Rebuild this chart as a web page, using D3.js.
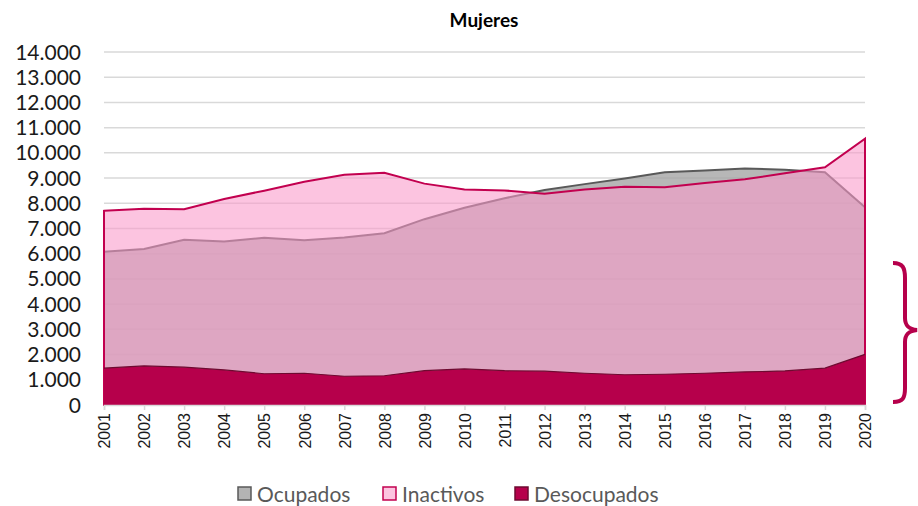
<!DOCTYPE html>
<html lang="es">
  <head>
    <meta charset="utf-8">
    <title>Mujeres</title>
    <script src="https://cdnjs.cloudflare.com/ajax/libs/d3/7.8.5/d3.min.js"></script>
    <style>
      body { margin: 0; background: #fff; }
      svg { display: block; font-family: "Lato", "Open Sans", sans-serif; }
      .grid line { stroke: #d9d9d9; stroke-width: 1.5; }
      .ylab { font-size: 21px; fill: #1a1a1a; }
      .xaxis text { font-size: 16px; fill: #1a1a1a; }
      .legend text { font-size: 21px; fill: #595959; }
    </style>
  </head>
  <body>
    <div id="chart"></div>

    <script type="text/javascript">
    const years = [2001, 2002, 2003, 2004, 2005, 2006, 2007, 2008, 2009, 2010,
                   2011, 2012, 2013, 2014, 2015, 2016, 2017, 2018, 2019, 2020];
    const ocupados = [6080, 6190, 6550, 6480, 6630, 6530, 6640, 6810, 7370, 7820,
                      8200, 8530, 8760, 8980, 9230, 9300, 9380, 9330, 9230, 7840];
    const inactivos = [7700, 7780, 7760, 8170, 8500, 8850, 9130, 9210, 8780, 8550,
                       8510, 8380, 8550, 8660, 8640, 8800, 8950, 9190, 9430, 10560];
    const desocupados = [1460, 1550, 1500, 1390, 1240, 1260, 1140, 1160, 1360, 1430,
                         1360, 1340, 1260, 1200, 1220, 1260, 1310, 1350, 1460, 2010];
    const yTicks = d3.range(0, 14001, 1000);
    const seriesNames = ["Ocupados", "Inactivos", "Desocupados"];

    const w = 918;
    const h = 506;

    const es = d3.formatLocale({decimal: ",", thousands: ".", grouping: [3], currency: ["", "€"]});
    const fmt = es.format(",");

    const x = d3.scaleLinear().domain([2001, 2020]).range([104, 865]);
    const y = d3.scaleLinear().domain([0, 14000]).range([405, 52]);

    const svg = d3.select("#chart").append("svg")
        .attr("width", w)
        .attr("height", h);

    // title
    svg.append("text")
      .attr("x", 484)
      .attr("y", 27)
      .attr("text-anchor", "middle")
      .style("font-size", "19px")
      .style("font-weight", "bold")
      .style("fill", "#000")
      .text("Mujeres");

    // gridlines + y labels
    const grid = svg.append("g").attr("class", "grid");
    grid.selectAll("line")
      .data(yTicks.filter(d => d > 0))
      .enter().append("line")
      .attr("x1", x(2001))
      .attr("x2", x(2020))
      .attr("y1", d => y(d))
      .attr("y2", d => y(d));

    svg.selectAll(".ylab")
      .data(yTicks)
      .enter().append("text")
      .attr("class", "ylab")
      .attr("x", 81)
      .attr("y", d => y(d))
      .attr("dy", "0.36em")
      .attr("text-anchor", "end")
      .text(d => fmt(d));

    const rows = years.map((yr, i) => ({yr: yr, o: ocupados[i], n: inactivos[i], d: desocupados[i]}));

    const area = key => d3.area()
      .x(d => x(d.yr))
      .y0(y(0))
      .y1(d => y(d[key]));
    const line = key => d3.line()
      .x(d => x(d.yr))
      .y(d => y(d[key]));

    // Ocupados
    svg.append("path")
      .datum(rows)
      .attr("d", area("o"))
      .style("fill", "#a5a5a5")
      .style("fill-opacity", 0.8);
    svg.append("path")
      .datum(rows)
      .attr("d", line("o"))
      .style("fill", "none")
      .style("stroke", "#595959")
      .style("stroke-width", 2);

    // Inactivos (transparent, on top of Ocupados)
    svg.append("path")
      .datum(rows)
      .attr("d", area("n"))
      .style("fill", "#fa99c9")
      .style("fill-opacity", 0.58)
      .style("stroke", "#c2004f")
      .style("stroke-width", 2);

    // Desocupados
    svg.append("path")
      .datum(rows)
      .attr("d", area("d"))
      .style("fill", "#b6004b");
    svg.append("path")
      .datum(rows)
      .attr("d", line("d"))
      .style("fill", "none")
      .style("stroke", "#6e0a30")
      .style("stroke-width", 1.2);

    // x axis
    const xAxis = d3.axisBottom(x)
      .tickValues(years)
      .tickFormat(d3.format("d"))
      .tickSize(5)
      .tickPadding(6);
    const gx = svg.append("g")
      .attr("class", "xaxis")
      .attr("transform", "translate(0," + y(0) + ")")
      .call(xAxis);
    gx.select(".domain").style("stroke", "#d9d9d9").style("stroke-width", 1.5);
    gx.selectAll(".tick line").style("stroke", "#d9d9d9").style("stroke-width", 1.5);
    gx.selectAll(".tick text")
      .attr("transform", "rotate(-90)")
      .attr("x", -8)
      .attr("y", 0)
      .attr("dy", "0.36em")
      .attr("text-anchor", "end");

    // curly bracket on the right
    svg.append("path")
      .attr("d", "M893,263 C903,263 905,268 905,278 L905,318 C905,326 909,329 917,330 " +
                 "C909,331 905,334 905,342 L905,388 C905,398 903,402 893,402")
      .style("fill", "none")
      .style("stroke", "#b6004b")
      .style("stroke-width", 4);

    // legend
    const legendFill = ["#b3b3b3", "#fcc4e0", "#b6004b"];
    const legendStroke = ["#595959", "#c2004f", "#6e0a30"];
    const legendX = [238, 383, 515];
    const lg = svg.append("g").attr("class", "legend");
    seriesNames.forEach((name, i) => {
      lg.append("rect")
        .attr("x", legendX[i])
        .attr("y", 487)
        .attr("width", 13)
        .attr("height", 13)
        .style("fill", legendFill[i])
        .style("stroke", legendStroke[i])
        .style("stroke-width", 1.5);
      lg.append("text")
        .attr("x", legendX[i] + 19)
        .attr("y", 494)
        .attr("dy", "0.36em")
        .text(name);
    });
    </script>
  </body>
</html>
